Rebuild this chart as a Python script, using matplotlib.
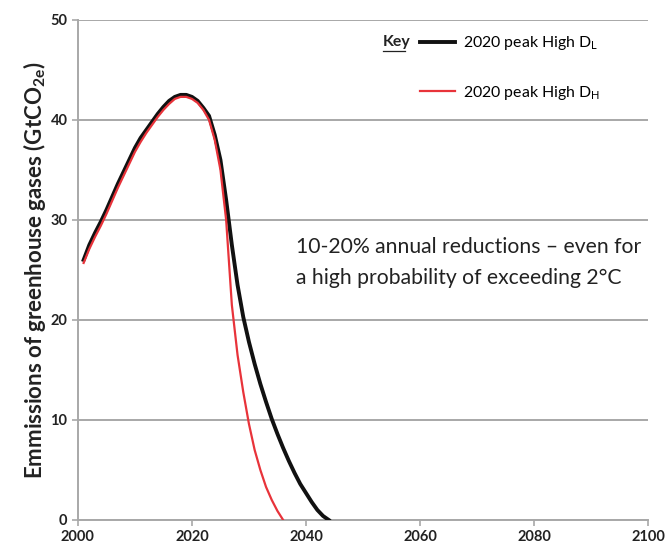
import matplotlib.pyplot as plt

# Colores y fuente
COLOR_NEGRO = '#111111'
COLOR_ROJO = '#e8333a'
COLOR_REJILLA = '#a8a8a8'
FUENTE = 'Lato'

# Datos
anios = list(range(2001, 2045))
high_dl = [26.0, 27.5, 28.7, 29.8, 31.0, 32.3, 33.6, 34.8, 36.0, 37.2,
           38.2, 39.0, 39.8, 40.6, 41.3, 41.9, 42.3, 42.5, 42.5, 42.3,
           41.9, 41.2, 40.4, 38.5, 36.0, 32.0, 27.5, 23.5, 20.3, 17.8,
           15.6, 13.6, 11.8, 10.1, 8.6, 7.2, 5.9, 4.7, 3.6, 2.7,
           1.8, 1.0, 0.4, 0.0]

anios_dh = list(range(2001, 2037))
high_dh = [25.7, 27.1, 28.3, 29.4, 30.6, 31.9, 33.2, 34.4, 35.6, 36.8,
           37.8, 38.7, 39.5, 40.3, 41.0, 41.6, 42.1, 42.3, 42.3, 42.1,
           41.7, 41.0, 40.0, 38.0, 35.0, 30.0, 21.5, 16.5, 12.8, 9.6,
           7.0, 5.0, 3.3, 2.0, 0.9, 0.0]

etiquetas = ['2020 peak High D$_\\mathregular{L}$', '2020 peak High D$_\\mathregular{H}$']

plt.rcParams['font.family'] = [FUENTE, 'DejaVu Sans']

fig = plt.figure(figsize=(6.66, 5.52), dpi=100)
ax = fig.add_axes([0.117, 0.058, 0.856, 0.906])

ax.plot(anios, high_dl, color=COLOR_NEGRO, linewidth=2.8, label=etiquetas[0], zorder=3)
ax.plot(anios_dh, high_dh, color=COLOR_ROJO, linewidth=1.6, label=etiquetas[1], zorder=4)

ax.set_xlim(2000, 2100)
ax.set_ylim(0, 50)
ax.set_xticks(range(2000, 2101, 20))
ax.set_yticks(range(0, 51, 10))
ax.grid(axis='y', color=COLOR_REJILLA, linewidth=1.4)
ax.set_axisbelow(True)

for lado in ['top', 'right']:
    ax.spines[lado].set_visible(False)
for lado in ['left', 'bottom']:
    ax.spines[lado].set_color(COLOR_REJILLA)
    ax.spines[lado].set_linewidth(1.4)
ax.tick_params(colors=COLOR_REJILLA, length=4, width=1.2)
for t in ax.get_xticklabels() + ax.get_yticklabels():
    t.set_color('#222222')
    t.set_fontweight('bold')
    t.set_fontsize(10.5)

ax.set_ylabel('Emmissions of greenhouse gases (GtCO$_\\mathregular{2e}$)',
              fontsize=16, fontweight='bold', color='#222222', labelpad=2)

# Leyenda
ley = ax.legend(loc='upper left', bbox_to_anchor=(0.575, 1.0), frameon=False,
                fontsize=11.4, handlelength=2.2, labelspacing=2.0, handletextpad=0.5)
ax.text(0.535, 0.955, 'Key', transform=ax.transAxes, fontsize=11.4,
        fontweight='bold', color='#222222', va='center', ha='left')
ax.plot([0.535, 0.573], [0.937, 0.937], transform=ax.transAxes, color='#222222',
        linewidth=0.9, clip_on=False)

ax.text(0.383, 0.515, '10-20% annual reductions \u2013 even for\na high probability of exceeding 2\u00b0C',
        transform=ax.transAxes, fontsize=15.2, color='#222222', va='center', ha='left',
        linespacing=1.7)

fig.savefig('out.png', dpi=100)
